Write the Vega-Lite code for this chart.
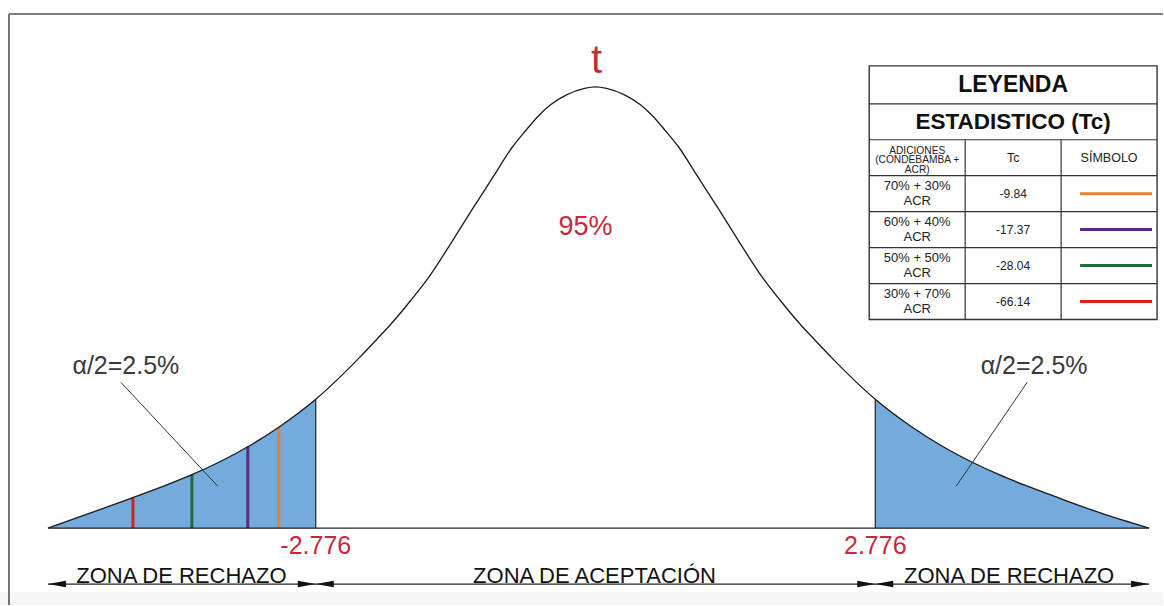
{
  "$schema": "https://vega.github.io/schema/vega-lite/v6.json",
  "width": 1164,
  "height": 606,
  "padding": 0,
  "autosize": {"type": "fit", "contains": "padding"},
  "background": "#ffffff",
  "config": {
    "view": {"stroke": null},
    "text": {"font": "Liberation Sans"}
  },
  "datasets": {
    "curva": [
      {"t": -5.433, "h": 0.00},
      {"t": -5.017, "h": 0.15},
      {"t": -4.590, "h": 0.305},
      {"t": -4.273, "h": 0.425},
      {"t": -4.005, "h": 0.535},
      {"t": -3.738, "h": 0.66},
      {"t": -3.450, "h": 0.815},
      {"t": -3.143, "h": 1.01},
      {"t": -2.776, "h": 1.29},
      {"t": -2.508, "h": 1.54},
      {"t": -2.340, "h": 1.71},
      {"t": -2.181, "h": 1.88},
      {"t": -2.042, "h": 2.03},
      {"t": -1.834, "h": 2.28},
      {"t": -1.636, "h": 2.54},
      {"t": -1.418, "h": 2.88},
      {"t": -1.219, "h": 3.20},
      {"t": -1.021, "h": 3.51},
      {"t": -0.823, "h": 3.82},
      {"t": -0.694, "h": 3.98},
      {"t": -0.555, "h": 4.14},
      {"t": -0.446, "h": 4.24},
      {"t": -0.288, "h": 4.34},
      {"t": -0.109, "h": 4.405},
      {"t": 0.000, "h": 4.42},
      {"t": 0.109, "h": 4.405},
      {"t": 0.288, "h": 4.34},
      {"t": 0.446, "h": 4.24},
      {"t": 0.555, "h": 4.14},
      {"t": 0.694, "h": 3.98},
      {"t": 0.823, "h": 3.82},
      {"t": 1.021, "h": 3.51},
      {"t": 1.219, "h": 3.20},
      {"t": 1.418, "h": 2.88},
      {"t": 1.636, "h": 2.54},
      {"t": 1.834, "h": 2.28},
      {"t": 2.042, "h": 2.03},
      {"t": 2.181, "h": 1.88},
      {"t": 2.340, "h": 1.71},
      {"t": 2.508, "h": 1.54},
      {"t": 2.776, "h": 1.29},
      {"t": 3.143, "h": 1.01},
      {"t": 3.450, "h": 0.815},
      {"t": 3.738, "h": 0.66},
      {"t": 4.005, "h": 0.535},
      {"t": 4.273, "h": 0.425},
      {"t": 4.590, "h": 0.305},
      {"t": 5.017, "h": 0.15},
      {"t": 5.493, "h": 0.00}
    ],
    "tc": [
      {"adicion": "70% + 30%", "tc": -9.84, "t_plot": -3.143, "h_plot": 1.01, "fila": 1},
      {"adicion": "60% + 40%", "tc": -17.37, "t_plot": -3.450, "h_plot": 0.815, "fila": 2},
      {"adicion": "50% + 50%", "tc": -28.04, "t_plot": -4.005, "h_plot": 0.535, "fila": 3},
      {"adicion": "30% + 70%", "tc": -66.14, "t_plot": -4.590, "h_plot": 0.305, "fila": 4}
    ],
    "flechas": [
      {"t": -5.433, "dir": "izq"},
      {"t": -2.776, "dir": "der"},
      {"t": -2.776, "dir": "izq"},
      {"t": 2.776, "dir": "der"},
      {"t": 2.776, "dir": "izq"},
      {"t": 5.493, "dir": "der"}
    ],
    "zonas": [
      {"zona": "ZONA DE RECHAZO", "t": -4.109},
      {"zona": "ZONA DE ACEPTACIÓN", "t": -0.01},
      {"zona": "ZONA DE RECHAZO", "t": 4.104}
    ]
  },
  "layer": [
    {
      "data": {"values": [{}]},
      "mark": {"type": "rect", "color": "#f6f6f6"},
      "encoding": {
        "x": {"datum": -5.909, "type": "quantitative", "axis": null, "scale": {"domain": [-5.909, 5.631], "nice": false, "zero": false}},
        "x2": {"datum": 5.631},
        "y": {"datum": -0.64, "type": "quantitative", "axis": null, "scale": {"domain": [-0.77, 5.29], "nice": false, "zero": false}},
        "y2": {"datum": -0.77}
      }
    },
    {
      "data": {"values": [{}]},
      "mark": {"type": "rule", "color": "#555555", "strokeWidth": 1.6},
      "encoding": {
        "x": {"datum": -5.82, "type": "quantitative", "axis": null},
        "x2": {"datum": 5.631},
        "y": {"datum": 5.15, "type": "quantitative", "axis": null}
      }
    },
    {
      "data": {"values": [{}]},
      "mark": {"type": "rule", "color": "#555555", "strokeWidth": 1.6},
      "encoding": {
        "x": {"datum": -5.82, "type": "quantitative", "axis": null},
        "y": {"datum": 5.15, "type": "quantitative", "axis": null},
        "y2": {"datum": -0.77}
      }
    },
    {
      "data": {"name": "curva"},
      "transform": [{"filter": "datum.t <= -2.776"}],
      "mark": {"type": "area", "color": "#75aadc", "opacity": 1, "interpolate": "monotone"},
      "encoding": {
        "x": {"field": "t", "type": "quantitative", "axis": null},
        "y": {"field": "h", "type": "quantitative", "axis": null},
        "y2": {"datum": 0}
      }
    },
    {
      "data": {"name": "curva"},
      "transform": [{"filter": "datum.t >= 2.776"}],
      "mark": {"type": "area", "color": "#75aadc", "opacity": 1, "interpolate": "monotone"},
      "encoding": {
        "x": {"field": "t", "type": "quantitative", "axis": null},
        "y": {"field": "h", "type": "quantitative", "axis": null},
        "y2": {"datum": 0}
      }
    },
    {
      "data": {"name": "tc"},
      "mark": {"type": "rule", "strokeWidth": 3},
      "encoding": {
        "x": {"field": "t_plot", "type": "quantitative", "axis": null},
        "y": {"field": "h_plot", "type": "quantitative", "axis": null},
        "y2": {"datum": 0},
        "color": {
          "field": "adicion", "type": "nominal", "legend": null,
          "scale": {"domain": ["70% + 30%", "60% + 40%", "50% + 50%", "30% + 70%"], "range": ["#ed7d31", "#5b2a7e", "#1e6e3c", "#d91e1e"]}
        }
      }
    },
    {
      "data": {"name": "curva"},
      "transform": [{"filter": "abs(datum.t) == 2.776"}],
      "mark": {"type": "rule", "color": "#222222", "strokeWidth": 1.2},
      "encoding": {
        "x": {"field": "t", "type": "quantitative", "axis": null},
        "y": {"field": "h", "type": "quantitative", "axis": null},
        "y2": {"datum": 0}
      }
    },
    {
      "data": {"name": "curva"},
      "mark": {"type": "line", "color": "#1a1a1a", "strokeWidth": 1.3, "interpolate": "monotone"},
      "encoding": {
        "x": {"field": "t", "type": "quantitative", "axis": null, "scale": {"domain": [-5.909, 5.631], "nice": false, "zero": false}},
        "y": {"field": "h", "type": "quantitative", "axis": null, "scale": {"domain": [-0.77, 5.29], "nice": false, "zero": false}}
      }
    },
    {
      "data": {"values": [{}]},
      "mark": {"type": "rule", "color": "#222222", "strokeWidth": 1.2},
      "encoding": {
        "x": {"datum": -5.433, "type": "quantitative", "axis": null},
        "x2": {"datum": 5.493},
        "y": {"datum": 0, "type": "quantitative", "axis": null}
      }
    },
    {
      "data": {"values": [{}]},
      "mark": {"type": "rule", "color": "#222222", "strokeWidth": 1.2},
      "encoding": {
        "x": {"datum": -5.433, "type": "quantitative", "axis": null},
        "x2": {"datum": 5.493},
        "y": {"datum": -0.56, "type": "quantitative", "axis": null}
      }
    },
    {
      "data": {"name": "flechas"},
      "mark": {"type": "point", "filled": true, "color": "#111111", "opacity": 1, "size": 324, "strokeWidth": 0},
      "encoding": {
        "x": {"field": "t", "type": "quantitative", "axis": null},
        "y": {"datum": -0.56, "type": "quantitative", "axis": null},
        "shape": {
          "field": "dir", "type": "nominal", "legend": null,
          "scale": {"domain": ["izq", "der"], "range": ["M0,0L2,-0.36L2,0.36Z", "M0,0L-2,-0.36L-2,0.36Z"]}
        }
      }
    },
    {
      "data": {"name": "zonas"},
      "mark": {"type": "text", "fontSize": 22, "color": "#111111", "align": "center", "baseline": "alphabetic"},
      "encoding": {
        "x": {"field": "t", "type": "quantitative", "axis": null},
        "y": {"datum": -0.545, "type": "quantitative", "axis": null},
        "text": {"field": "zona", "type": "nominal"}
      }
    },
    {
      "data": {"name": "curva"},
      "transform": [{"filter": "abs(datum.t) == 2.776"}],
      "mark": {"type": "text", "fontSize": 25, "color": "#c8283c", "align": "center", "baseline": "alphabetic"},
      "encoding": {
        "x": {"field": "t", "type": "quantitative", "axis": null},
        "y": {"datum": -0.26, "type": "quantitative", "axis": null},
        "text": {"field": "t", "type": "nominal"}
      }
    },
    {
      "data": {"values": [{}]},
      "mark": {"type": "text", "text": "t", "fontSize": 40, "color": "#c8283c", "align": "center", "baseline": "alphabetic"},
      "encoding": {
        "x": {"datum": 0.01, "type": "quantitative", "axis": null},
        "y": {"datum": 4.56, "type": "quantitative", "axis": null}
      }
    },
    {
      "data": {"values": [{}]},
      "mark": {"type": "text", "text": "95%", "fontSize": 27, "color": "#c8283c", "align": "center", "baseline": "alphabetic"},
      "encoding": {
        "x": {"datum": -0.099, "type": "quantitative", "axis": null},
        "y": {"datum": 2.94, "type": "quantitative", "axis": null}
      }
    },
    {
      "data": {"values": [{}]},
      "mark": {"type": "text", "text": "α/2=2.5%", "fontSize": 25, "color": "#3a3a3a", "align": "center", "baseline": "alphabetic"},
      "encoding": {
        "x": {"datum": -4.66, "type": "quantitative", "axis": null},
        "y": {"datum": 1.54, "type": "quantitative", "axis": null}
      }
    },
    {
      "data": {"values": [{}]},
      "mark": {"type": "text", "text": "α/2=2.5%", "fontSize": 25, "color": "#3a3a3a", "align": "center", "baseline": "alphabetic"},
      "encoding": {
        "x": {"datum": 4.352, "type": "quantitative", "axis": null},
        "y": {"datum": 1.54, "type": "quantitative", "axis": null}
      }
    },
    {
      "data": {"values": [{}]},
      "mark": {"type": "rule", "color": "#333333", "strokeWidth": 1},
      "encoding": {
        "x": {"datum": -4.709, "type": "quantitative", "axis": null},
        "x2": {"datum": -3.748},
        "y": {"datum": 1.46, "type": "quantitative", "axis": null},
        "y2": {"datum": 0.42}
      }
    },
    {
      "data": {"values": [{}]},
      "mark": {"type": "rule", "color": "#333333", "strokeWidth": 1},
      "encoding": {
        "x": {"datum": 4.283, "type": "quantitative", "axis": null},
        "x2": {"datum": 3.579},
        "y": {"datum": 1.46, "type": "quantitative", "axis": null},
        "y2": {"datum": 0.42}
      }
    },
    {
      "data": {"values": [{}]},
      "mark": {"type": "rect", "fill": "#ffffff", "stroke": "#333333", "strokeWidth": 1.4},
      "encoding": {
        "x": {"datum": 2.716, "type": "quantitative", "axis": null},
        "x2": {"datum": 5.572},
        "y": {"datum": 4.63, "type": "quantitative", "axis": null},
        "y2": {"datum": 2.09}
      }
    },
    {"data": {"values": [{}]}, "mark": {"type": "rule", "color": "#333333", "strokeWidth": 1.2},
     "encoding": {"x": {"datum": 2.716, "type": "quantitative", "axis": null}, "x2": {"datum": 5.572}, "y": {"datum": 4.25, "type": "quantitative", "axis": null}}},
    {"data": {"values": [{}]}, "mark": {"type": "rule", "color": "#333333", "strokeWidth": 1.2},
     "encoding": {"x": {"datum": 2.716, "type": "quantitative", "axis": null}, "x2": {"datum": 5.572}, "y": {"datum": 3.89, "type": "quantitative", "axis": null}}},
    {"data": {"values": [{}]}, "mark": {"type": "rule", "color": "#333333", "strokeWidth": 1.2},
     "encoding": {"x": {"datum": 2.716, "type": "quantitative", "axis": null}, "x2": {"datum": 5.572}, "y": {"datum": 3.53, "type": "quantitative", "axis": null}}},
    {"data": {"values": [{}]}, "mark": {"type": "rule", "color": "#333333", "strokeWidth": 1.2},
     "encoding": {"x": {"datum": 2.716, "type": "quantitative", "axis": null}, "x2": {"datum": 5.572}, "y": {"datum": 3.17, "type": "quantitative", "axis": null}}},
    {"data": {"values": [{}]}, "mark": {"type": "rule", "color": "#333333", "strokeWidth": 1.2},
     "encoding": {"x": {"datum": 2.716, "type": "quantitative", "axis": null}, "x2": {"datum": 5.572}, "y": {"datum": 2.81, "type": "quantitative", "axis": null}}},
    {"data": {"values": [{}]}, "mark": {"type": "rule", "color": "#333333", "strokeWidth": 1.2},
     "encoding": {"x": {"datum": 2.716, "type": "quantitative", "axis": null}, "x2": {"datum": 5.572}, "y": {"datum": 2.45, "type": "quantitative", "axis": null}}},
    {"data": {"values": [{}]}, "mark": {"type": "rule", "color": "#333333", "strokeWidth": 1.2},
     "encoding": {"x": {"datum": 3.668, "type": "quantitative", "axis": null}, "y": {"datum": 3.89, "type": "quantitative", "axis": null}, "y2": {"datum": 2.09}}},
    {"data": {"values": [{}]}, "mark": {"type": "rule", "color": "#333333", "strokeWidth": 1.2},
     "encoding": {"x": {"datum": 4.62, "type": "quantitative", "axis": null}, "y": {"datum": 3.89, "type": "quantitative", "axis": null}, "y2": {"datum": 2.09}}},
    {
      "data": {"values": [{}]},
      "mark": {"type": "text", "text": "LEYENDA", "fontSize": 23, "fontWeight": "bold", "color": "#111111", "align": "center", "baseline": "middle"},
      "encoding": {"x": {"datum": 4.144, "type": "quantitative", "axis": null}, "y": {"datum": 4.44, "type": "quantitative", "axis": null}}
    },
    {
      "data": {"values": [{}]},
      "mark": {"type": "text", "text": "ESTADISTICO (Tc)", "fontSize": 22.5, "fontWeight": "bold", "color": "#111111", "align": "center", "baseline": "middle"},
      "encoding": {"x": {"datum": 4.144, "type": "quantitative", "axis": null}, "y": {"datum": 4.07, "type": "quantitative", "axis": null}}
    },
    {
      "data": {"values": [{}]},
      "mark": {"type": "text", "text": "ADICIONES\n(CONDEBAMBA +\nACR)", "lineBreak": "\n", "lineHeight": 9.6, "fontSize": 10.2, "color": "#222222", "align": "center", "baseline": "middle"},
      "encoding": {"x": {"datum": 3.192, "type": "quantitative", "axis": null}, "y": {"datum": 3.78, "type": "quantitative", "axis": null}}
    },
    {
      "data": {"values": [{}]},
      "mark": {"type": "text", "text": "Tc", "fontSize": 12.5, "color": "#222222", "align": "center", "baseline": "middle"},
      "encoding": {"x": {"datum": 4.144, "type": "quantitative", "axis": null}, "y": {"datum": 3.71, "type": "quantitative", "axis": null}}
    },
    {
      "data": {"values": [{}]},
      "mark": {"type": "text", "text": "SÍMBOLO", "fontSize": 12.5, "color": "#222222", "align": "center", "baseline": "middle"},
      "encoding": {"x": {"datum": 5.096, "type": "quantitative", "axis": null}, "y": {"datum": 3.71, "type": "quantitative", "axis": null}}
    },

    {"data": {"name": "tc"}, "transform": [{"filter": "datum.fila == 1"}],
     "mark": {"type": "text", "fontSize": 13, "color": "#222222", "align": "center", "baseline": "middle", "dy": -8},
     "encoding": {"x": {"datum": 3.192, "type": "quantitative", "axis": null}, "y": {"datum": 3.35, "type": "quantitative", "axis": null}, "text": {"field": "adicion", "type": "nominal"}}},
    {"data": {"name": "tc"}, "transform": [{"filter": "datum.fila == 1"}],
     "mark": {"type": "text", "text": "ACR", "fontSize": 13, "color": "#222222", "align": "center", "baseline": "middle", "dy": 7},
     "encoding": {"x": {"datum": 3.192, "type": "quantitative", "axis": null}, "y": {"datum": 3.35, "type": "quantitative", "axis": null}}},
    {"data": {"name": "tc"}, "transform": [{"filter": "datum.fila == 1"}],
     "mark": {"type": "text", "fontSize": 12, "color": "#222222", "align": "center", "baseline": "middle"},
     "encoding": {"x": {"datum": 4.144, "type": "quantitative", "axis": null}, "y": {"datum": 3.35, "type": "quantitative", "axis": null}, "text": {"field": "tc", "type": "nominal"}}},
    {"data": {"name": "tc"}, "transform": [{"filter": "datum.fila == 1"}],
     "mark": {"type": "rule", "strokeWidth": 3},
     "encoding": {"x": {"datum": 4.808, "type": "quantitative", "axis": null}, "x2": {"datum": 5.522}, "y": {"datum": 3.35, "type": "quantitative", "axis": null},
       "color": {"field": "adicion", "type": "nominal", "legend": null}}},

    {"data": {"name": "tc"}, "transform": [{"filter": "datum.fila == 2"}],
     "mark": {"type": "text", "fontSize": 13, "color": "#222222", "align": "center", "baseline": "middle", "dy": -8},
     "encoding": {"x": {"datum": 3.192, "type": "quantitative", "axis": null}, "y": {"datum": 2.99, "type": "quantitative", "axis": null}, "text": {"field": "adicion", "type": "nominal"}}},
    {"data": {"name": "tc"}, "transform": [{"filter": "datum.fila == 2"}],
     "mark": {"type": "text", "text": "ACR", "fontSize": 13, "color": "#222222", "align": "center", "baseline": "middle", "dy": 7},
     "encoding": {"x": {"datum": 3.192, "type": "quantitative", "axis": null}, "y": {"datum": 2.99, "type": "quantitative", "axis": null}}},
    {"data": {"name": "tc"}, "transform": [{"filter": "datum.fila == 2"}],
     "mark": {"type": "text", "fontSize": 12, "color": "#222222", "align": "center", "baseline": "middle"},
     "encoding": {"x": {"datum": 4.144, "type": "quantitative", "axis": null}, "y": {"datum": 2.99, "type": "quantitative", "axis": null}, "text": {"field": "tc", "type": "nominal"}}},
    {"data": {"name": "tc"}, "transform": [{"filter": "datum.fila == 2"}],
     "mark": {"type": "rule", "strokeWidth": 3},
     "encoding": {"x": {"datum": 4.808, "type": "quantitative", "axis": null}, "x2": {"datum": 5.522}, "y": {"datum": 2.99, "type": "quantitative", "axis": null},
       "color": {"field": "adicion", "type": "nominal", "legend": null}}},

    {"data": {"name": "tc"}, "transform": [{"filter": "datum.fila == 3"}],
     "mark": {"type": "text", "fontSize": 13, "color": "#222222", "align": "center", "baseline": "middle", "dy": -8},
     "encoding": {"x": {"datum": 3.192, "type": "quantitative", "axis": null}, "y": {"datum": 2.63, "type": "quantitative", "axis": null}, "text": {"field": "adicion", "type": "nominal"}}},
    {"data": {"name": "tc"}, "transform": [{"filter": "datum.fila == 3"}],
     "mark": {"type": "text", "text": "ACR", "fontSize": 13, "color": "#222222", "align": "center", "baseline": "middle", "dy": 7},
     "encoding": {"x": {"datum": 3.192, "type": "quantitative", "axis": null}, "y": {"datum": 2.63, "type": "quantitative", "axis": null}}},
    {"data": {"name": "tc"}, "transform": [{"filter": "datum.fila == 3"}],
     "mark": {"type": "text", "fontSize": 12, "color": "#222222", "align": "center", "baseline": "middle"},
     "encoding": {"x": {"datum": 4.144, "type": "quantitative", "axis": null}, "y": {"datum": 2.63, "type": "quantitative", "axis": null}, "text": {"field": "tc", "type": "nominal"}}},
    {"data": {"name": "tc"}, "transform": [{"filter": "datum.fila == 3"}],
     "mark": {"type": "rule", "strokeWidth": 3},
     "encoding": {"x": {"datum": 4.808, "type": "quantitative", "axis": null}, "x2": {"datum": 5.522}, "y": {"datum": 2.63, "type": "quantitative", "axis": null},
       "color": {"field": "adicion", "type": "nominal", "legend": null}}},

    {"data": {"name": "tc"}, "transform": [{"filter": "datum.fila == 4"}],
     "mark": {"type": "text", "fontSize": 13, "color": "#222222", "align": "center", "baseline": "middle", "dy": -8},
     "encoding": {"x": {"datum": 3.192, "type": "quantitative", "axis": null}, "y": {"datum": 2.27, "type": "quantitative", "axis": null}, "text": {"field": "adicion", "type": "nominal"}}},
    {"data": {"name": "tc"}, "transform": [{"filter": "datum.fila == 4"}],
     "mark": {"type": "text", "text": "ACR", "fontSize": 13, "color": "#222222", "align": "center", "baseline": "middle", "dy": 7},
     "encoding": {"x": {"datum": 3.192, "type": "quantitative", "axis": null}, "y": {"datum": 2.27, "type": "quantitative", "axis": null}}},
    {"data": {"name": "tc"}, "transform": [{"filter": "datum.fila == 4"}],
     "mark": {"type": "text", "fontSize": 12, "color": "#222222", "align": "center", "baseline": "middle"},
     "encoding": {"x": {"datum": 4.144, "type": "quantitative", "axis": null}, "y": {"datum": 2.27, "type": "quantitative", "axis": null}, "text": {"field": "tc", "type": "nominal"}}},
    {"data": {"name": "tc"}, "transform": [{"filter": "datum.fila == 4"}],
     "mark": {"type": "rule", "strokeWidth": 3},
     "encoding": {"x": {"datum": 4.808, "type": "quantitative", "axis": null}, "x2": {"datum": 5.522}, "y": {"datum": 2.27, "type": "quantitative", "axis": null},
       "color": {"field": "adicion", "type": "nominal", "legend": null}}}
  ]
}
